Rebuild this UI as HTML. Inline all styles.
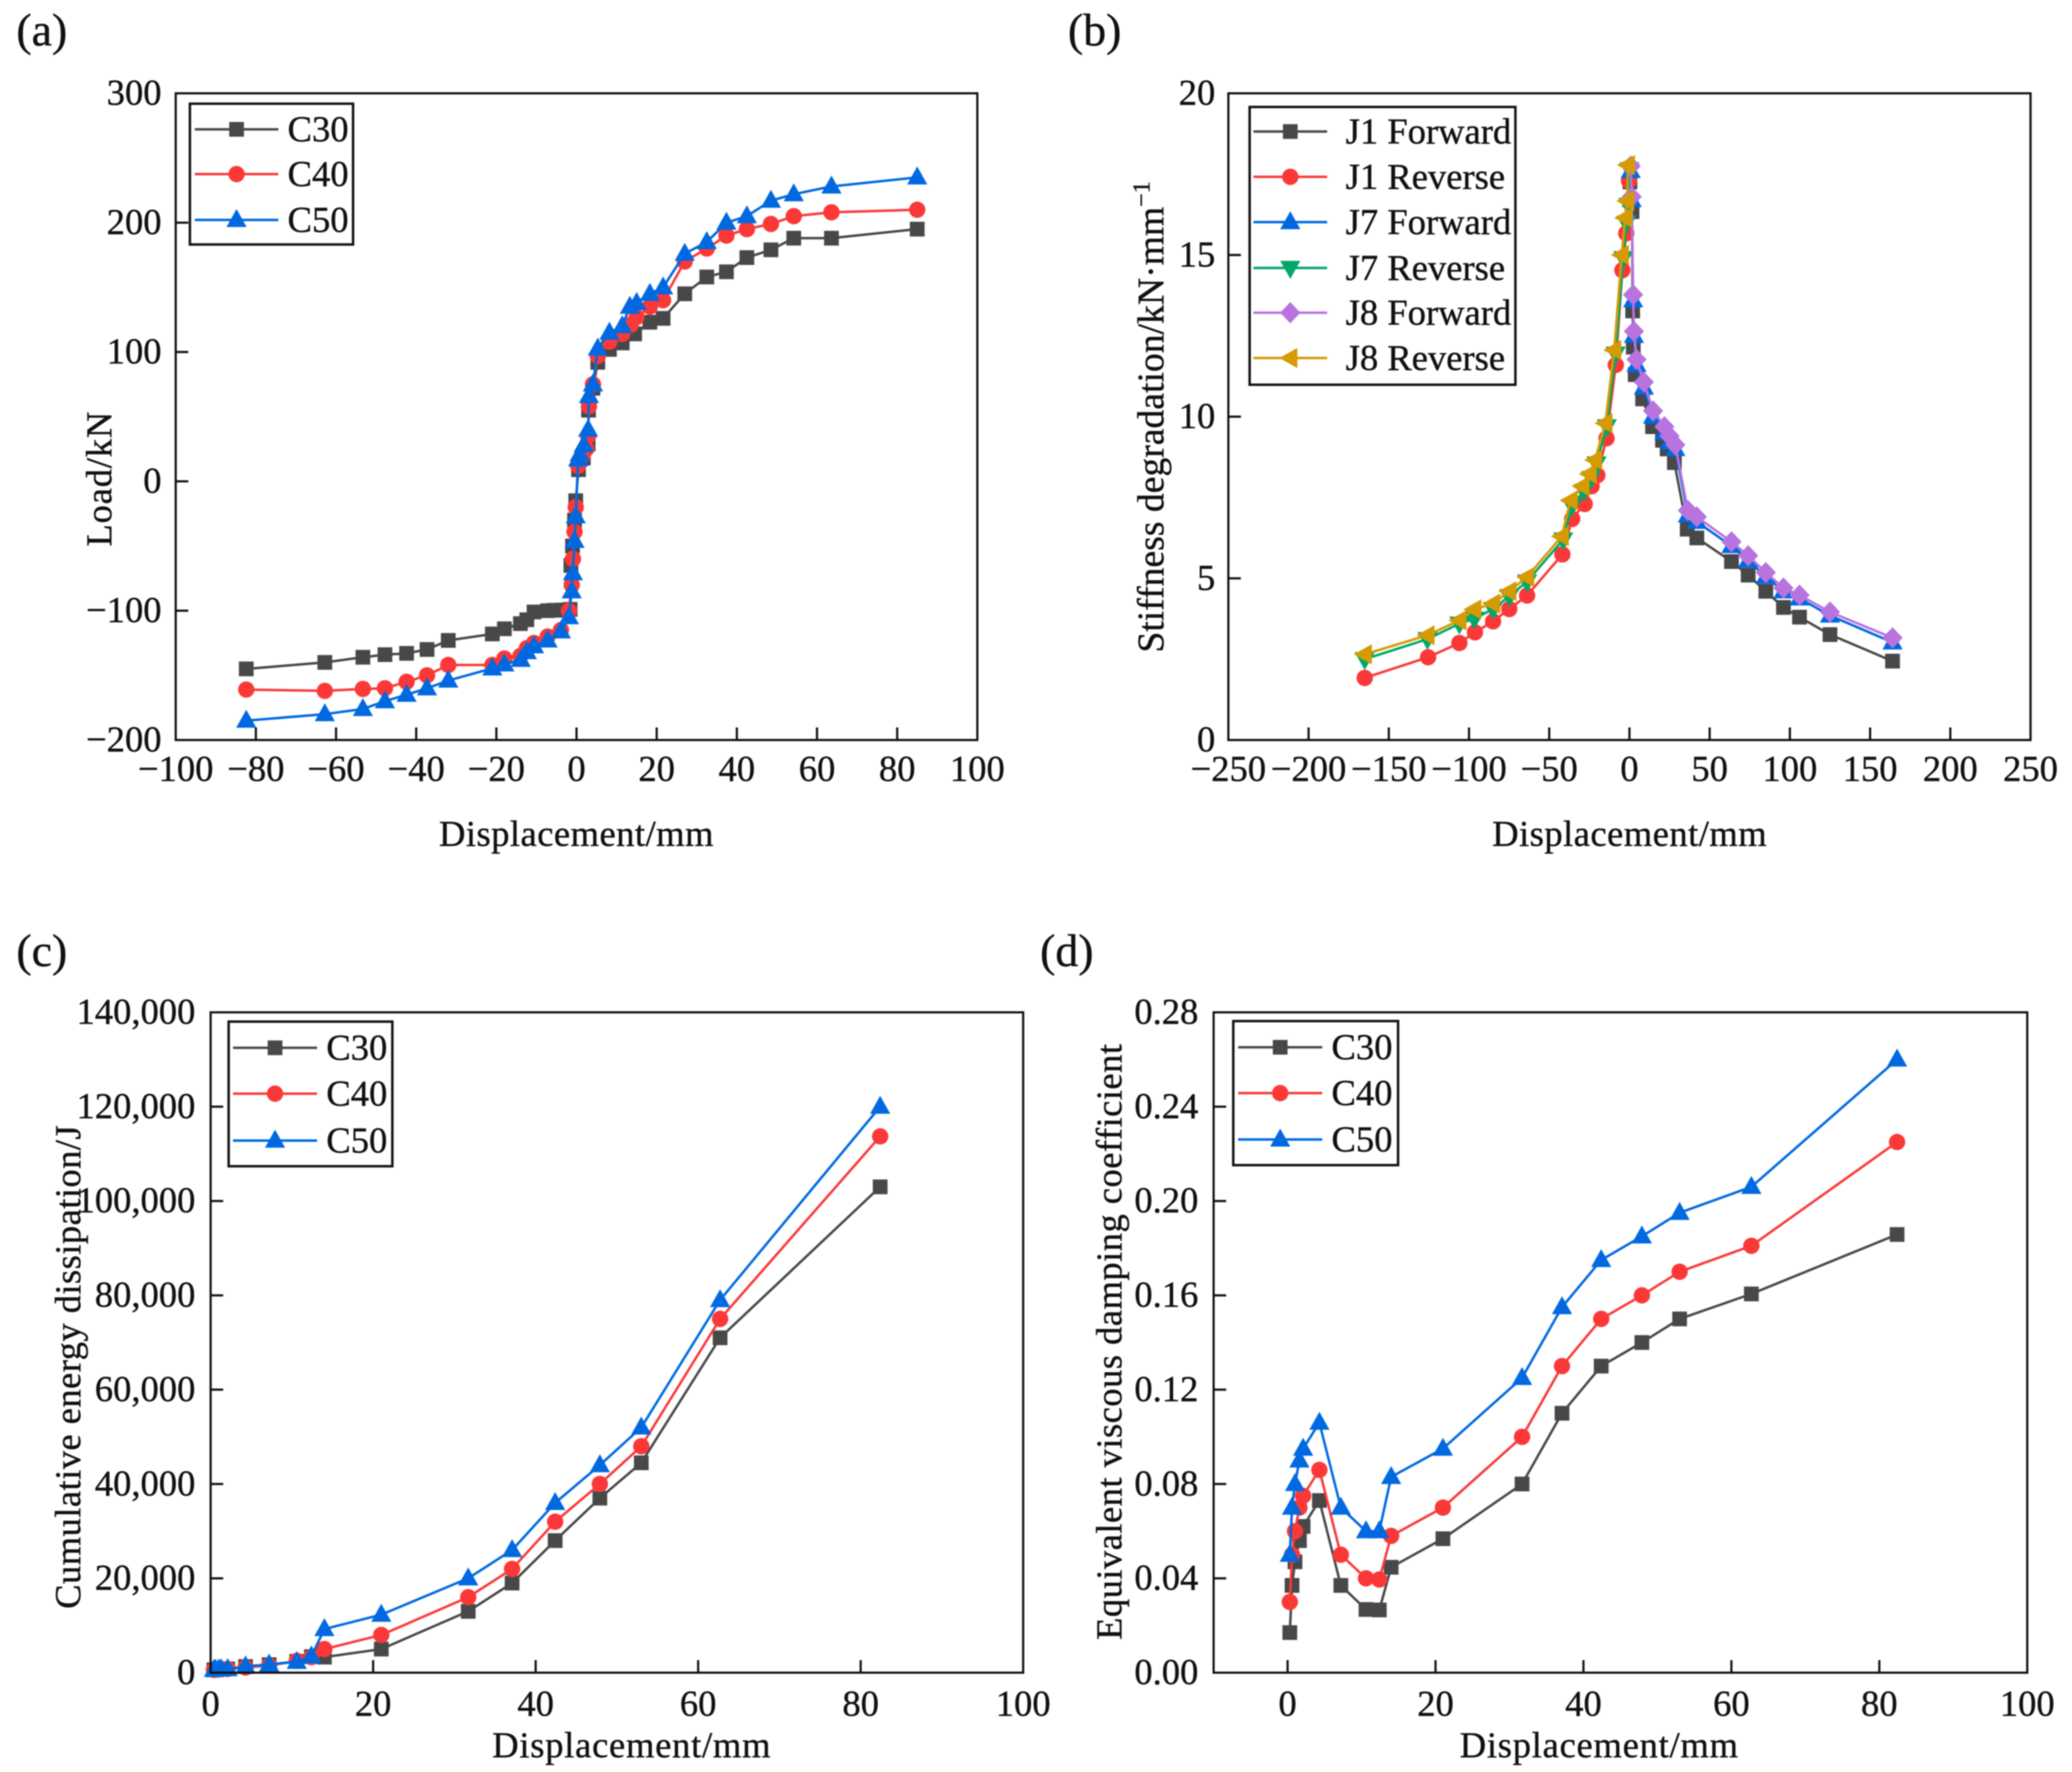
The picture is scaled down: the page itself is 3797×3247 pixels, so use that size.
<!DOCTYPE html>
<html lang="en">
<head>
<meta charset="utf-8">
<title>Joint performance charts</title>
<style>
html,body{margin:0;padding:0;background:#fff;}
#figure{display:block;width:3797px;height:3247px;background:#fff;filter:blur(1px);}
text{font-family:"Liberation Serif","Times New Roman",serif;fill:#111;font-size:67px;stroke:#111;stroke-width:0.7px;}
</style>
</head>
<body>
<svg id="figure" xmlns="http://www.w3.org/2000/svg" width="3797" height="3247" viewBox="0 0 3797 3247">
  <rect x="0" y="0" width="3797" height="3247" fill="#ffffff"/>
  <text x="30" y="83" style="font-size:84px">(a)</text>
  <text x="1957" y="83" style="font-size:84px">(b)</text>
  <text x="30" y="1770" style="font-size:84px">(c)</text>
  <text x="1906" y="1770" style="font-size:84px">(d)</text>

  <text x="1056" y="1550" text-anchor="middle" textLength="503">Displacement/mm</text>
  <text transform="translate(204,878) rotate(-90)" text-anchor="middle" textLength="247">Load/kN</text>

  <text x="2986" y="1550" text-anchor="middle" textLength="503">Displacement/mm</text>
  <text transform="translate(2132,764) rotate(-90)" text-anchor="middle" style="font-size:69px">Stiffness degradation/kN·mm<tspan dy="-26" style="font-size:44px">−1</tspan></text>

  <text x="1157" y="3220" text-anchor="middle" textLength="510">Displacement/mm</text>
  <text transform="translate(147,2505) rotate(-90)" text-anchor="middle" textLength="886">Cumulative energy dissipation/J</text>

  <text x="2930" y="3220" text-anchor="middle" textLength="510">Displacement/mm</text>
  <text transform="translate(2055,2459) rotate(-90)" text-anchor="middle" textLength="1092">Equivalent viscous damping coefficient</text>
  <g id="plots"></g>
</svg>
<script>
// ---------- Panel (a): load vs displacement ----------
const loadC30X = [-82.4,-62.8,-53.3,-47.8,-42.4,-37.3,-32,-21,-18,-14,-12.4,-10.6,-7.2,-5.5,-3.5,-1.6,-1.4,-1,-0.5,-0.2,0.5,1.7,2.9,3,4.1,5.3,8.2,11.4,14.5,18.3,21.6,27,32.5,37.4,42.5,48.5,54.2,63.6,85];
const loadC30Y = [-145,-140,-136,-134,-133,-130,-123,-118,-114,-110,-107,-101,-100,-99.7,-99.5,-99,-65,-50,-30,-15,9,18,29,55,72,92,102,107,114,123,126,145,158,162,173,179,188,188,195];
const loadC40X = [-82.4,-62.8,-53.3,-47.8,-42.4,-37.3,-32,-21,-18,-14,-12.4,-10.6,-7.2,-3.9,-1.9,-1.2,-0.9,-0.5,-0.2,0.4,1.5,2.4,2.9,3.1,4.1,5.3,8.2,11.4,13.5,15,18.3,21.6,27,32.5,37.4,42.5,48.5,54.2,63.6,85];
const loadC40Y = [-161,-162,-160.5,-160,-155,-150,-142,-142,-137,-135,-129,-125,-120,-115,-100,-80,-60,-39,-20,12,20,25,35,58,75,97,108,114,121,127,135,140,170,180,190,195,199,205,208,210];
const loadC50X = [-82.4,-62.8,-53.3,-47.8,-42.4,-37.3,-32,-21,-18,-13.9,-12.4,-10.6,-7.2,-3.9,-1.9,-1.2,-0.9,-0.5,-0.2,0.4,0.8,1.8,2.9,3.1,4.1,5.3,8.2,11.4,13.3,15,18.3,21.6,27,32.5,37.4,42.5,48.5,54.2,63.6,85];
const loadC50Y = [-185,-180,-176,-170,-165,-160,-154,-144.6,-141.5,-138,-132,-127.5,-123,-116,-105,-85,-71,-46,-27,17,21,28,40,66,75,102.7,115,120,135,138,145,150,176,185,200,205,217,222,228,235];
const panelAXTicks = [-100,-80,-60,-40,-20,0,20,40,60,80,100];
const panelAYTicks = [-200,-100,0,100,200,300];

// ---------- Panel (b): stiffness degradation ----------
const j1ForwardX = [0.3,1.6,2,2.4,3.6,8.2,14.4,20.6,23.5,28,36,42,63.6,74,85,96,106,125,164];
const j1ForwardY = [17.26,16.34,13.27,12.15,11.3,10.55,9.69,9.27,9.0,8.58,6.52,6.25,5.52,5.1,4.6,4.1,3.8,3.26,2.44];
const j1ReverseX = [-0.3,-2,-4.4,-8.5,-14.3,-20,-23.6,-27.9,-35.7,-41.8,-63.8,-74.9,-85,-96.3,-106,-125.5,-165];
const j1ReverseY = [17.3,15.67,14.53,11.6,9.33,8.19,7.85,7.3,6.84,5.74,4.47,4.05,3.67,3.33,3.0,2.56,1.92];
const j7ForwardX = [0.8,1.4,2.3,2.8,4.4,9,14.7,21.8,25,28.6,36.4,42,63.6,74,85,96,106,125,164];
const j7ForwardY = [17.6,16.7,13.6,12.5,11.6,10.9,10.0,9.5,9.2,9.0,6.95,6.75,6.0,5.55,5.05,4.6,4.38,3.85,3.02];
const j7ReverseX = [0,-0.6,-1.9,-3.9,-8.6,-14.1,-20.5,-23.9,-28.4,-35.8,-41.3,-63.8,-74.9,-85,-96.7,-106,-125.9,-165];
const j7ReverseY = [17.65,16.55,16.0,14.9,11.95,9.7,8.55,8.1,7.7,7.25,6.2,4.9,4.45,4.05,3.75,3.6,3.12,2.5];
const j8ForwardX = [0.8,1.4,2.3,2.8,4.4,9,14.7,21.8,25,28.6,36.4,42,63.6,74,85,96,106,125,164];
const j8ForwardY = [17.75,16.8,13.77,12.64,11.77,11.07,10.18,9.69,9.4,9.13,7.1,6.9,6.13,5.7,5.18,4.7,4.48,3.96,3.16];
const j8ReverseX = [-1,-1.4,-2.7,-4.8,-9.5,-15,-21.4,-24.8,-29.3,-36.7,-42.2,-63.8,-74.9,-85,-96.7,-106,-125.9,-165];
const j8ReverseY = [17.78,16.67,16.15,15.0,12.06,9.8,8.66,8.23,7.85,7.41,6.3,5.04,4.6,4.22,4.04,3.7,3.24,2.65];
const panelBXTicks = [-250,-200,-150,-100,-50,0,50,100,150,200,250];
const panelBYTicks = [0,5,10,15,20];

// ---------- Panel (c): cumulative energy ----------
const energyX = [0.4,0.6,1,1.3,2.1,4.3,7.2,10.6,12.4,14,21,31.7,37.1,42.4,47.9,53,62.7,82.4];
const energyC30 = [600,650,700,750,800,1300,1700,2400,3400,3300,5000,13000,19000,28000,37000,44500,71000,103000];
const energyC40 = [600,650,700,750,800,1100,1500,2500,3300,5000,8000,16000,22000,32000,40000,48000,75000,113700];
const energyC50 = [600,650,700,730,770,1350,1730,2300,3470,9250,12300,20000,26000,36000,44000,52000,79000,120000];
const panelCXTicks = [0,20,40,60,80,100];
const panelCYTicks = [0,20000,40000,60000,80000,100000,120000,140000];
const panelCYLabels = ['0','20,000','40,000','60,000','80,000','100,000','120,000','140,000'];

// ---------- Panel (d): equivalent viscous damping ----------
const dampingX = [0.3,0.6,1,1.6,2.1,4.3,7.2,10.6,12.4,14,21,31.7,37.1,42.4,47.9,53,62.7,82.4];
const dampingC30 = [0.017,0.037,0.047,0.056,0.062,0.073,0.037,0.0268,0.0266,0.0447,0.0568,0.08,0.11,0.13,0.14,0.15,0.1606,0.1858];
const dampingC40 = [0.03,0.05,0.06,0.07,0.075,0.086,0.05,0.04,0.0395,0.058,0.07,0.10,0.13,0.15,0.16,0.17,0.181,0.225];
const dampingC50 = [0.05,0.07,0.08,0.09,0.095,0.106,0.07,0.06,0.06,0.083,0.095,0.125,0.155,0.175,0.185,0.195,0.206,0.26];
const panelDXTicks = [0,20,40,60,80,100];
const panelDYTicks = [0,0.04,0.08,0.12,0.16,0.20,0.24,0.28];
const panelDYLabels = ['0.00','0.04','0.08','0.12','0.16','0.20','0.24','0.28'];

const concreteNames = ['C30','C40','C50'];
const jointNames = ['J1 Forward','J1 Reverse','J7 Forward','J7 Reverse','J8 Forward','J8 Reverse'];

const COLORS = {square:'#484848',circle:'#fb3838',up:'#0069e0',down:'#00a868',diamond:'#b873de',left:'#d69a04'};
const NS = 'http://www.w3.org/2000/svg';
const root = document.getElementById('plots');

function make(parent, tag, attrs, text) {
  const el = document.createElementNS(NS, tag);
  for (const k in attrs) el.setAttribute(k, attrs[k]);
  if (text !== undefined) el.textContent = text;
  parent.appendChild(el);
  return el;
}
function tag(el, name, interactive) {
  
  
  return el;
}
function marker(parent, kind, cx, cy) {
  const c = COLORS[kind];
  let s;
  if (kind === 'square') s = make(parent,'rect',{x:cx-13.5,y:cy-13.5,width:27,height:27,fill:c});
  else if (kind === 'circle') s = make(parent,'circle',{cx:cx,cy:cy,r:15,fill:c});
  else {
    let p;
    if (kind === 'up') p = [[cx,cy-20],[cx+18.5,cy+13],[cx-18.5,cy+13]];
    if (kind === 'down') p = [[cx,cy+20],[cx+18.5,cy-13],[cx-18.5,cy-13]];
    if (kind === 'left') p = [[cx-20,cy],[cx+13,cy-18.5],[cx+13,cy+18.5]];
    if (kind === 'diamond') p = [[cx,cy-19.5],[cx+18.5,cy],[cx,cy+19.5],[cx-18.5,cy]];
    s = make(parent,'polygon',{points:p.map(q=>q.join(',')).join(' '),fill:c});
  }
  return s;
}
function panel(cfg) {
  const g = make(root,'g',{});
  tag(g, 'chart-' + cfg.id, false);
  const sx = v => cfg.left + (v - cfg.xMin) / (cfg.xMax - cfg.xMin) * (cfg.right - cfg.left);
  const sy = v => cfg.bottom - (v - cfg.yMin) / (cfg.yMax - cfg.yMin) * (cfg.bottom - cfg.top);

  cfg.xTicks.forEach(function (t) {
    const tick = make(g,'line',{x1:sx(t),x2:sx(t),y1:cfg.bottom,y2:cfg.bottom-23,stroke:'#111','stroke-width':4});
    tag(tick, 'x-tick-' + t, false);
    const label = make(g,'text',{x:sx(t),y:cfg.xLabelY,'text-anchor':'middle'}, String(t).replace('-','−'));
    tag(label, 'x-tick-label-' + t, false);
  });
  cfg.yTicks.forEach(function (t, i) {
    const tick = make(g,'line',{x1:cfg.left,x2:cfg.left+23,y1:sy(t),y2:sy(t),stroke:'#111','stroke-width':4});
    tag(tick, 'y-tick-' + t, false);
    const txt = cfg.yLabels ? cfg.yLabels[i] : String(t).replace('-','−');
    const label = make(g,'text',{x:cfg.yLabelX,y:sy(t)+21,'text-anchor':'end'}, txt);
    tag(label, 'y-tick-label-' + t, false);
  });

  cfg.series.forEach(function (s) {
    const sg = make(g,'g',{});
    tag(sg, 'series-' + s.name.toLowerCase().replace(' ','-'), false);
    const pts = s.x.map((x,i) => sx(x).toFixed(1) + ',' + sy(s.y[i]).toFixed(1)).join(' ');
    const line = make(sg,'polyline',{points:pts,fill:'none',stroke:COLORS[s.kind],'stroke-width':4.5,'stroke-linejoin':'round'});
    tag(line, 'line-' + s.name.toLowerCase().replace(' ','-'), false);
    s.x.forEach(function (x, i) {
      const m = marker(sg, s.kind, sx(x), sy(s.y[i]));
      tag(m, 'point-' + s.name.toLowerCase().replace(' ','-'), false);
    });
  });

  const frame = make(g,'rect',{x:cfg.left,y:cfg.top,width:cfg.right-cfg.left,height:cfg.bottom-cfg.top,fill:'none',stroke:'#111','stroke-width':4});
  tag(frame, 'plot-frame', false);

  const L = cfg.legend;
  const lg = make(g,'g',{});
  tag(lg, 'legend', false);
  const box = make(lg,'rect',{x:L.x1,y:L.y1,width:L.x2-L.x1,height:L.y2-L.y1,fill:'#fff',stroke:'#111','stroke-width':4.5});
  tag(box, 'legend-box', false);
  cfg.series.forEach(function (s, i) {
    const y = L.rows[i];
    const en = make(lg,'g',{});
    tag(en, 'legend-entry-' + s.name.toLowerCase().replace(' ','-'), true);
    make(en,'line',{x1:L.lineA,x2:L.lineB,y1:y,y2:y,stroke:COLORS[s.kind],'stroke-width':4.5});
    marker(en, s.kind, (L.lineA+L.lineB)/2, y);
    make(en,'text',{x:L.textX,y:y+22}, s.name);
  });
}

panel({id:'load-displacement',left:322,right:1791,top:171,bottom:1356,
  xMin:-100,xMax:100,yMin:-200,yMax:300,xTicks:panelAXTicks,yTicks:panelAYTicks,xLabelY:1431,yLabelX:296,
  series:[{name:concreteNames[0],kind:'square',x:loadC30X,y:loadC30Y},{name:concreteNames[1],kind:'circle',x:loadC40X,y:loadC40Y},{name:concreteNames[2],kind:'up',x:loadC50X,y:loadC50Y}],
  legend:{x1:348,x2:647,y1:190,y2:448,lineA:357,lineB:510,textX:527,rows:[237,319,403]}});

panel({id:'stiffness-degradation',left:2251,right:3721,top:171,bottom:1356,
  xMin:-250,xMax:250,yMin:0,yMax:20,xTicks:panelBXTicks,yTicks:panelBYTicks,xLabelY:1431,yLabelX:2227,
  series:[{name:jointNames[0],kind:'square',x:j1ForwardX,y:j1ForwardY},{name:jointNames[1],kind:'circle',x:j1ReverseX,y:j1ReverseY},{name:jointNames[2],kind:'up',x:j7ForwardX,y:j7ForwardY},{name:jointNames[3],kind:'down',x:j7ReverseX,y:j7ReverseY},{name:jointNames[4],kind:'diamond',x:j8ForwardX,y:j8ForwardY},{name:jointNames[5],kind:'left',x:j8ReverseX,y:j8ReverseY}],
  legend:{x1:2290,x2:2777,y1:196,y2:705,lineA:2297,lineB:2432,textX:2466,rows:[241,324,407,491,573,656]}});

panel({id:'cumulative-energy',left:386,right:1875,top:1855,bottom:3065,
  xMin:0,xMax:100,yMin:0,yMax:140000,xTicks:panelCXTicks,yTicks:panelCYTicks,yLabels:panelCYLabels,xLabelY:3144,yLabelX:358,
  series:[{name:concreteNames[0],kind:'square',x:energyX,y:energyC30},{name:concreteNames[1],kind:'circle',x:energyX,y:energyC40},{name:concreteNames[2],kind:'up',x:energyX,y:energyC50}],
  legend:{x1:419,x2:719,y1:1872,y2:2137,lineA:427,lineB:581,textX:598,rows:[1920,2004,2090]}});

panel({id:'viscous-damping',left:2224,right:3715,top:1855,bottom:3065,
  xMin:-10,xMax:100,yMin:0,yMax:0.28,xTicks:panelDXTicks,yTicks:panelDYTicks,yLabels:panelDYLabels,xLabelY:3144,yLabelX:2196,
  series:[{name:concreteNames[0],kind:'square',x:dampingX,y:dampingC30},{name:concreteNames[1],kind:'circle',x:dampingX,y:dampingC40},{name:concreteNames[2],kind:'up',x:dampingX,y:dampingC50}],
  legend:{x1:2260,x2:2562,y1:1871,y2:2135,lineA:2269,lineB:2423,textX:2440,rows:[1919,2003,2088]}});
</script>
</body>
</html>
